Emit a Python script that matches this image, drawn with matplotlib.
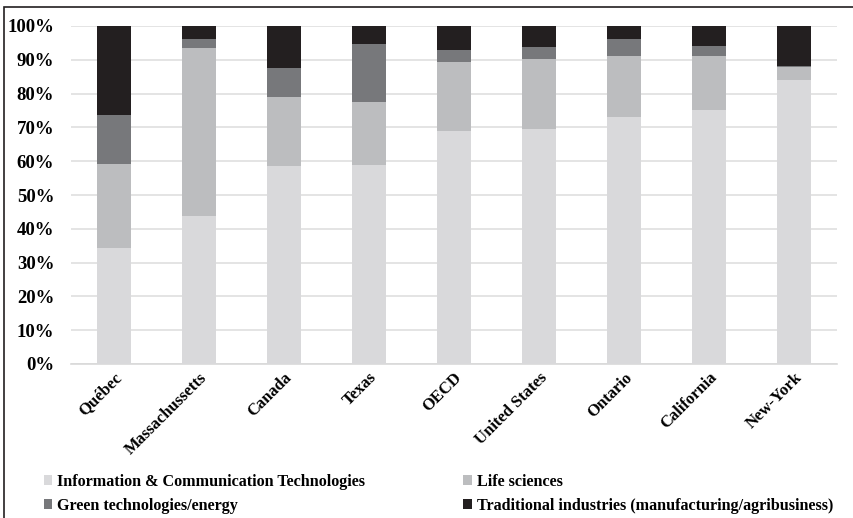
import matplotlib
matplotlib.use("Agg")
import matplotlib.pyplot as plt
from matplotlib.patches import Rectangle, Patch
from matplotlib.ticker import PercentFormatter

# data (percent of each region)
REGIONS = ["Québec", "Massachussetts", "Canada", "Texas", "OECD", "United States", "Ontario", "California", "New-York"]
ICT = [34.3, 43.8, 58.7, 59.0, 69.0, 69.6, 73.1, 75.1, 84.0]
LIFE = [25.0, 49.6, 20.2, 18.6, 20.4, 20.7, 18.1, 16.0, 3.8]
GREEN = [14.3, 2.9, 8.6, 17.2, 3.6, 3.4, 5.0, 3.0, 0.3]
TRAD = [26.4, 3.7, 12.5, 5.2, 7.0, 6.3, 3.8, 5.9, 11.9]

SERIES = ["Information & Communication Technologies", "Life sciences",
	"Green technologies/energy", "Traditional industries (manufacturing/agribusiness)"]
COLOURS = ["#d9d9db", "#bcbdbf", "#77787b", "#231f20"]

FONT = "Liberation Serif"

fig = plt.figure(figsize=(8.54, 5.18), dpi=100)
ax = fig.add_axes([71/854, 154/518, 766/854, 338/518])

x = range(len(REGIONS))
bottom = [0] * len(REGIONS)
for vals, col in zip([ICT, LIFE, GREEN, TRAD], COLOURS):
	ax.bar(x, vals, 0.4, bottom=bottom, color=col, zorder=3)
	bottom = [b + v for b, v in zip(bottom, vals)]

ax.set_ylim(0, 100)
ax.set_xlim(-0.5, len(REGIONS) - 0.5)
ax.set_yticks(range(0, 101, 10))
ax.yaxis.set_major_formatter(PercentFormatter(decimals=0))
ax.yaxis.grid(True, color="#dcdcdc", linewidth=1.1, zorder=0)
for s in ["top", "right", "left"]:
	ax.spines[s].set_visible(False)
ax.spines["bottom"].set_color("#d9d9d9")
ax.spines["bottom"].set_linewidth(1.2)
ax.tick_params(axis="both", length=0)
ax.tick_params(axis="y", pad=12)
ax.tick_params(axis="x", pad=4)

ax.set_xticks(list(x))
ax.set_xticklabels(REGIONS, rotation=45, ha="right", rotation_mode="anchor",
	fontfamily=FONT, fontweight="bold", fontsize=12)
for lbl in ax.get_yticklabels():
	lbl.set_fontfamily(FONT)
	lbl.set_fontweight("bold")
	lbl.set_fontsize(13.5)

# column-major order so the rows read ICT | Life, Green | Traditional
order = [0, 2, 1, 3]
handles = [Patch(facecolor=COLOURS[i], label=SERIES[i]) for i in order]
fig.legend(handles=handles, loc="center left", bbox_to_anchor=(29/854, 24/518), ncol=2,
	frameon=False, handlelength=0.55, handleheight=0.55, handletextpad=0.3,
	columnspacing=6.1, labelspacing=0.5,
	prop={"family": FONT, "weight": "bold", "size": 11.6})

# outer frame around the figure (cut at right and bottom)
fig.patches.append(Rectangle((4/854, -0.1), 1.1, 0.1 + 511/518, transform=fig.transFigure,
	fill=False, edgecolor="#231f20", linewidth=1.2))

fig.savefig("out.png", dpi=100)
